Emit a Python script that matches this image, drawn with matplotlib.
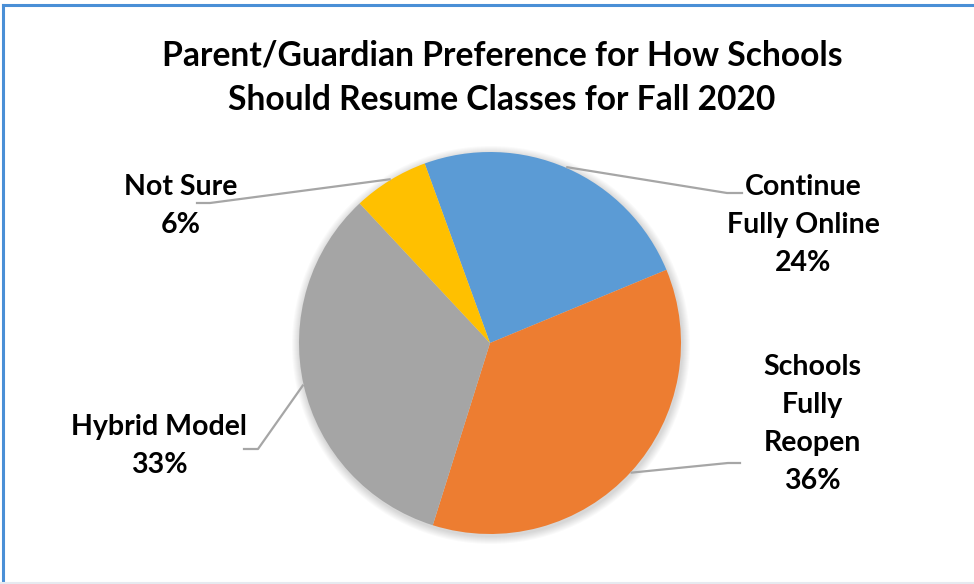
#!/usr/bin/env python
# Pie chart: parent/guardian preference for fall 2020 school reopening

import numpy as np
import matplotlib
matplotlib.use('Agg')
import matplotlib.pyplot as plt
from matplotlib.patches import Circle
from matplotlib.lines import Line2D

categories = ['Continue\nFully Online', 'Schools\nFully\nReopen', 'Hybrid Model', 'Not Sure']
values = [24.3, 36.1, 33.2, 6.4]
pct_labels = ['24%', '36%', '33%', '6%']
colors = ['#5B9BD5', '#ED7D31', '#A5A5A5', '#FFC000']

W, H = 974, 584
plt.rcParams['font.family'] = ['Lato', 'DejaVu Sans']

fig = plt.figure(figsize=(W / 100, H / 100), dpi=100)
ax = fig.add_axes([0, 0, 1, 1])


def fy(y):
    # pixel row (from top) -> data y
    return H - y


cx, cy, r = 490, 343, 191

# soft shadow under the pie
for k in range(8):
    ax.add_patch(Circle((cx + 1, fy(cy + 2)), r + 1 + k, color='#000000',
                        alpha=0.018, lw=0, zorder=1))

wedges, _ = ax.pie(values, colors=colors, startangle=110, counterclock=False,
                   center=(cx, fy(cy)), radius=r, frame=True,
                   wedgeprops=dict(linewidth=0))
for w in wedges:
    w.set_zorder(2)
ax.set_xlim(0, W)
ax.set_ylim(0, H)
ax.set_aspect('equal')
ax.axis('off')

# label layout: (elbow x, elbow y, end x, text x, text y)
layout = [
    (727, 193, 742, 803, 225),
    (728, 463, 740, 812, 424),
    (258, 449, 244, 159, 446),
    (210, 203, 197, 181, 206),
]

for w, cat, pct, (ex, ey, tx, lx, ly) in zip(wedges, categories, pct_labels, layout):
    mid = np.deg2rad((w.theta1 + w.theta2) / 2)
    sx = cx + (r + 1) * np.cos(mid)
    sy = fy(cy) + (r + 1) * np.sin(mid)
    ax.add_line(Line2D([sx, ex, tx], [sy, fy(ey), fy(ey)], color='#A6A6A6',
                       lw=1.6, zorder=3))
    ax.text(lx, fy(ly), cat + '\n' + pct, ha='center', va='center',
            fontsize=20.5, fontweight='bold', color='#000000',
            linespacing=1.58, zorder=4)

ax.text(502, fy(78), 'Parent/Guardian Preference for How Schools\nShould Resume Classes for Fall 2020',
        ha='center', va='center', fontsize=24.2, fontweight='bold',
        color='#000000', linespacing=1.5)

# chart frame (blue on top/left, faint at bottom)
ax.add_line(Line2D([2.5, W], [fy(4.5), fy(4.5)], color='#4A8FD6', lw=2.2))
ax.add_line(Line2D([2.5, 2.5], [fy(4.5), 0], color='#4A8FD6', lw=2.2))
ax.add_line(Line2D([0, W], [fy(583), fy(583)], color='#E6EAF0', lw=1.5))

fig.savefig('out.png', dpi=100)
